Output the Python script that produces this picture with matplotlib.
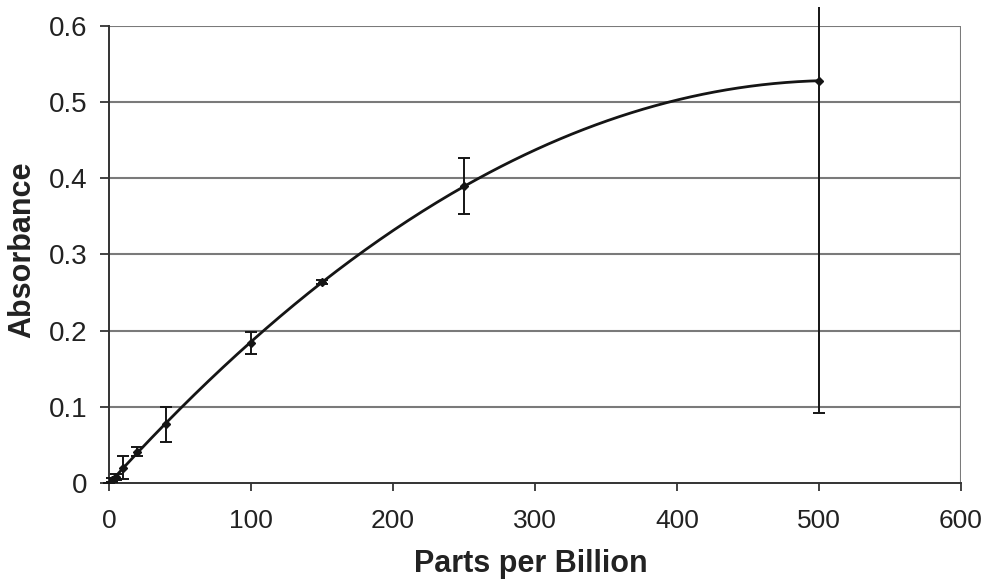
import numpy as np
import matplotlib
matplotlib.use("Agg")
import matplotlib.pyplot as plt
from matplotlib.patches import Rectangle
from matplotlib import font_manager

plt.rcParams['font.family'] = ['Liberation Sans', 'DejaVu Sans']

ppb = [0, 2, 5, 10, 20, 40, 100, 150, 250, 500]
absorbance = [0.0, 0.004, 0.008, 0.020, 0.041, 0.077, 0.184, 0.264, 0.390, 0.528]
err = [0.0, 0.003, 0.004, 0.015, 0.006, 0.023, 0.014, 0.003, 0.037, 0.436]
xticks = [0, 100, 200, 300, 400, 500, 600]
yticks = [0, 0.1, 0.2, 0.3, 0.4, 0.5, 0.6]
ytick_labels = ["0", "0.1", "0.2", "0.3", "0.4", "0.5", "0.6"]

names = {f.name for f in font_manager.fontManager.ttflist}
narrow = 'Liberation Sans Narrow' if 'Liberation Sans Narrow' in names else 'Liberation Sans'

fig = plt.figure(figsize=(9.89, 5.84), dpi=100)
ax = fig.add_axes([109/989, 1-483/584, (961-109)/989, (483-26)/584])

for yv in yticks[1:]:
    ax.axhline(yv, color="#7a7a7a", lw=1.5, zorder=1)
ax.axvline(600, color="#7a7a7a", lw=1.5, zorder=1)

# quadratic trendline
coef = np.polyfit(ppb, absorbance, 2)
xs = np.linspace(0, 500, 300)
ax.plot(xs, np.polyval(coef, xs), color="#151515", lw=2.0, zorder=3)

eb = ax.errorbar(ppb, absorbance, yerr=err, fmt='D', ms=4, color="#151515",
                 ecolor="#151515", elinewidth=1.4, capsize=4.5, capthick=1.4, zorder=4)
clip = Rectangle((-20, -0.01), 640, 0.635, transform=ax.transData)
for c in eb[1]:
    c.set_clip_path(clip)
for c in eb[2]:
    c.set_clip_path(clip)

ax.set_xlim(0, 600)
ax.set_ylim(0, 0.6)
ax.set_xticks(xticks)
ax.set_xticklabels([str(v) for v in xticks], family=[narrow, 'Liberation Sans'],
                   fontsize=22 if narrow != 'Liberation Sans' else 19)
ax.set_yticks(yticks)
ax.set_yticklabels(ytick_labels, fontsize=20)
ax.tick_params(axis='both', colors="#222222", width=1.2, direction='out')
ax.tick_params(axis='x', length=6, pad=13)
ax.tick_params(axis='y', length=6.5, pad=9)
for t in ax.get_xticklabels() + ax.get_yticklabels():
    t.set_color("#222222")

for s in ['top', 'right']:
    ax.spines[s].set_visible(False)
ax.spines['left'].set_color("#333333")
ax.spines['bottom'].set_color("#333333")
ax.spines['left'].set_linewidth(1.4)
ax.spines['bottom'].set_linewidth(1.4)

ax.set_xlabel("Parts per Billion", fontsize=22, fontweight='bold', color="#222222")
ax.xaxis.set_label_coords((531-109)/(961-109), (483-564)/(483-26), transform=ax.transAxes)
ax.xaxis.label.set_va('center')
ax.set_ylabel("Absorbance", fontsize=22, fontweight='bold', color="#222222")
ax.yaxis.set_label_coords((22-109)/(961-109), (483-250)/(483-26), transform=ax.transAxes)
ax.yaxis.label.set_va('center')

fig.savefig("out.png", dpi=100)
